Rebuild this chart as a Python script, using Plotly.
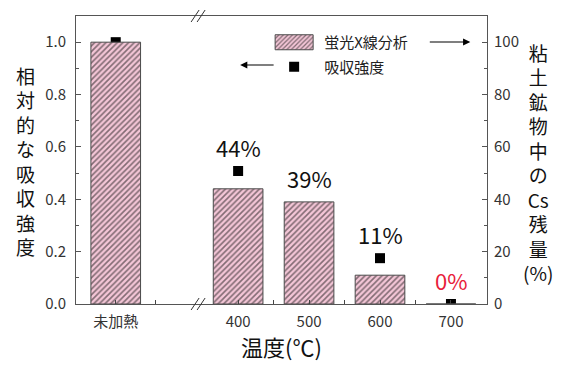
import plotly.graph_objects as go

# ---- data ----
categories = ["未加熱", "400", "500", "600", "700"]
temps = [227.5, 400, 500, 600, 700]              # x position on temperature scale (未加熱 left of the axis break)
cs_residual_pct = [100, 44, 39, 11, 0]           # 蛍光X線分析 (right axis, %)
abs_intensity = [1.0, 0.508, 0.366, 0.175, 0.0]  # 吸収強度 (left axis)
pct_labels = ["", "44%", "39%", "11%", "0%"]
pct_colors = ["#111111", "#111111", "#111111", "#111111", "#e8203a"]
left_title_chars = ["相", "対", "的", "な", "吸", "収", "強", "度"]
right_title_chars = ["粘", "土", "鉱", "物", "中", "の", "Cs", "残", "量", "(%)"]

FONT = "Noto Sans CJK JP"
OFF = 8                      # page body margin of the browser
W, H = 570 - 2 * OFF, 370 - 2 * OFF
PL, PR, PT, PB = 76, 486.7, 16, 304   # plot area in window pixels
L = PL - OFF
T = PT - OFF
R = W - (PR - OFF)
B = H - (PB - OFF)
PW, PH = PR - PL, PB - PT


def px_x(p):
    return (p - PL) / PW


def px_y(p):
    return (PB - p) / PH


fig = go.Figure()
fig.add_trace(go.Bar(
    x=temps, y=cs_residual_pct, width=70, yaxis="y2", name="蛍光X線分析", legendgroup="a",
    marker=dict(color="#f4c6d7", line=dict(color="#4a4a4a", width=1),
                pattern=dict(shape="/", fgcolor="#111111", bgcolor="#f4c6d7", size=4, solidity=0.4)),
))
fig.add_trace(go.Scatter(
    x=temps, y=abs_intensity, mode="markers", name="吸収強度", legendgroup="b",
    marker=dict(symbol="square", size=10, color="black"),
))

# percentage labels above max(bar, marker)
for xv, bar, mk, lab, col in zip(temps, cs_residual_pct, abs_intensity, pct_labels, pct_colors):
    if not lab:
        continue
    top = max(bar / 100.0, mk)
    fig.add_annotation(x=xv, y=top, xref="x", yref="y", text=lab, showarrow=False,
                       yanchor="bottom", yshift=6, font=dict(family=FONT, size=22, color=col))


def stacked(chars):
    return "<br>".join('<span style="font-size:19px">%s</span>' % c for c in chars)


fig.add_annotation(x=px_x(26), y=px_y(161), xref="paper", yref="paper", text=stacked(left_title_chars),
                   showarrow=False, xanchor="center", yanchor="middle",
                   font=dict(family=FONT, size=18.8, color="#111111"))
fig.add_annotation(x=px_x(538), y=px_y(162), xref="paper", yref="paper", text=stacked(right_title_chars),
                   showarrow=False, xanchor="center", yanchor="middle",
                   font=dict(family=FONT, size=18.8, color="#111111"))

# legend arrows
fig.add_annotation(x=px_x(470), y=px_y(42), xref="paper", yref="paper", ax=-42, ay=0,
                   text="", showarrow=True, arrowhead=2, arrowsize=1.2, arrowwidth=1.2, arrowcolor="black")
fig.add_annotation(x=px_x(240), y=px_y(65), xref="paper", yref="paper", ax=35, ay=0,
                   text="", showarrow=True, arrowhead=2, arrowsize=1.2, arrowwidth=1.2, arrowcolor="black")

# axis break marks
brk = 343.6
for yy in (0, 1):
    for dx in (-3, 3):
        fig.add_shape(type="line", xref="x", yref="paper",
                      x0=brk + (dx - 4) / 0.709, x1=brk + (dx + 4) / 0.709,
                      y0=yy - 6 / PH, y1=yy + 6 / PH, line=dict(color="#333333", width=1))

fig.update_layout(
    width=W, height=H, margin=dict(l=L, r=R, t=T, b=B, autoexpand=False),
    paper_bgcolor="white", plot_bgcolor="white",
    font=dict(family=FONT, size=15, color="#222222"),
    showlegend=True,
    legend=dict(x=px_x(264), y=px_y(26), xanchor="left", yanchor="top", bgcolor="rgba(0,0,0,0)",
                font=dict(family=FONT, size=15, color="#222222"), tracegroupgap=2, itemwidth=50),
    xaxis=dict(range=[171.5, 750.8], tickvals=temps, ticktext=categories, ticks="inside", ticklen=4,
               tickcolor="#444444", showgrid=False, layer="above traces",
               zeroline=False, showline=True, linecolor="#555555", linewidth=1, mirror=True,
               ticklabelstandoff=4,
               tickfont=dict(family=FONT, size=15, color="#333333"),
               minor=dict(tickvals=[284, 450, 550, 650], ticks="inside", ticklen=4, tickcolor="#444444"),
               title=dict(text="温度(℃)", font=dict(family=FONT, size=22, color="#111111"), standoff=12)),
    yaxis=dict(range=[0, 1.1], tickvals=[0, 0.2, 0.4, 0.6, 0.8, 1.0],
               ticktext=["0.0", "0.2", "0.4", "0.6", "0.8", "1.0"],
               ticks="inside", ticklen=5, tickcolor="#555555", showgrid=False, zeroline=False,
               showline=True, linecolor="#555555", linewidth=1, ticklabelstandoff=6,
               minor=dict(dtick=0.1, ticks="inside", ticklen=3, tickcolor="#555555"),
               tickfont=dict(family=FONT, size=15, color="#333333")),
    yaxis2=dict(range=[0, 110], overlaying="y", side="right", tickvals=[0, 20, 40, 60, 80, 100],
                ticks="inside", ticklen=5, tickcolor="#555555", showgrid=False, zeroline=False,
                showline=True, linecolor="#555555", linewidth=1, ticklabelstandoff=3,
                minor=dict(dtick=10, ticks="inside", ticklen=3, tickcolor="#555555"),
                tickfont=dict(family=FONT, size=15, color="#333333")),
)

# widen the bar swatch in the legend to a rectangle like the reference
post = """
var gd = document.getElementById('{plot_id}');
function widenSwatch() {
  var paths = gd.querySelectorAll('g.legendpoints path');
  paths.forEach(function(p) {
    var d = p.getAttribute('d') || '';
    if (d.indexOf('M6,6H-6V-6H6Z') === 0 || p.classList.contains('legendbar')) {
      p.setAttribute('d', 'M19,7.5H-19V-7.5H19Z');
    }
  });
}
widenSwatch();
setTimeout(widenSwatch, 50);
setTimeout(widenSwatch, 300);
if (gd.on) { gd.on('plotly_afterplot', widenSwatch); }
"""

fig.write_html("out.html", post_script=post)
